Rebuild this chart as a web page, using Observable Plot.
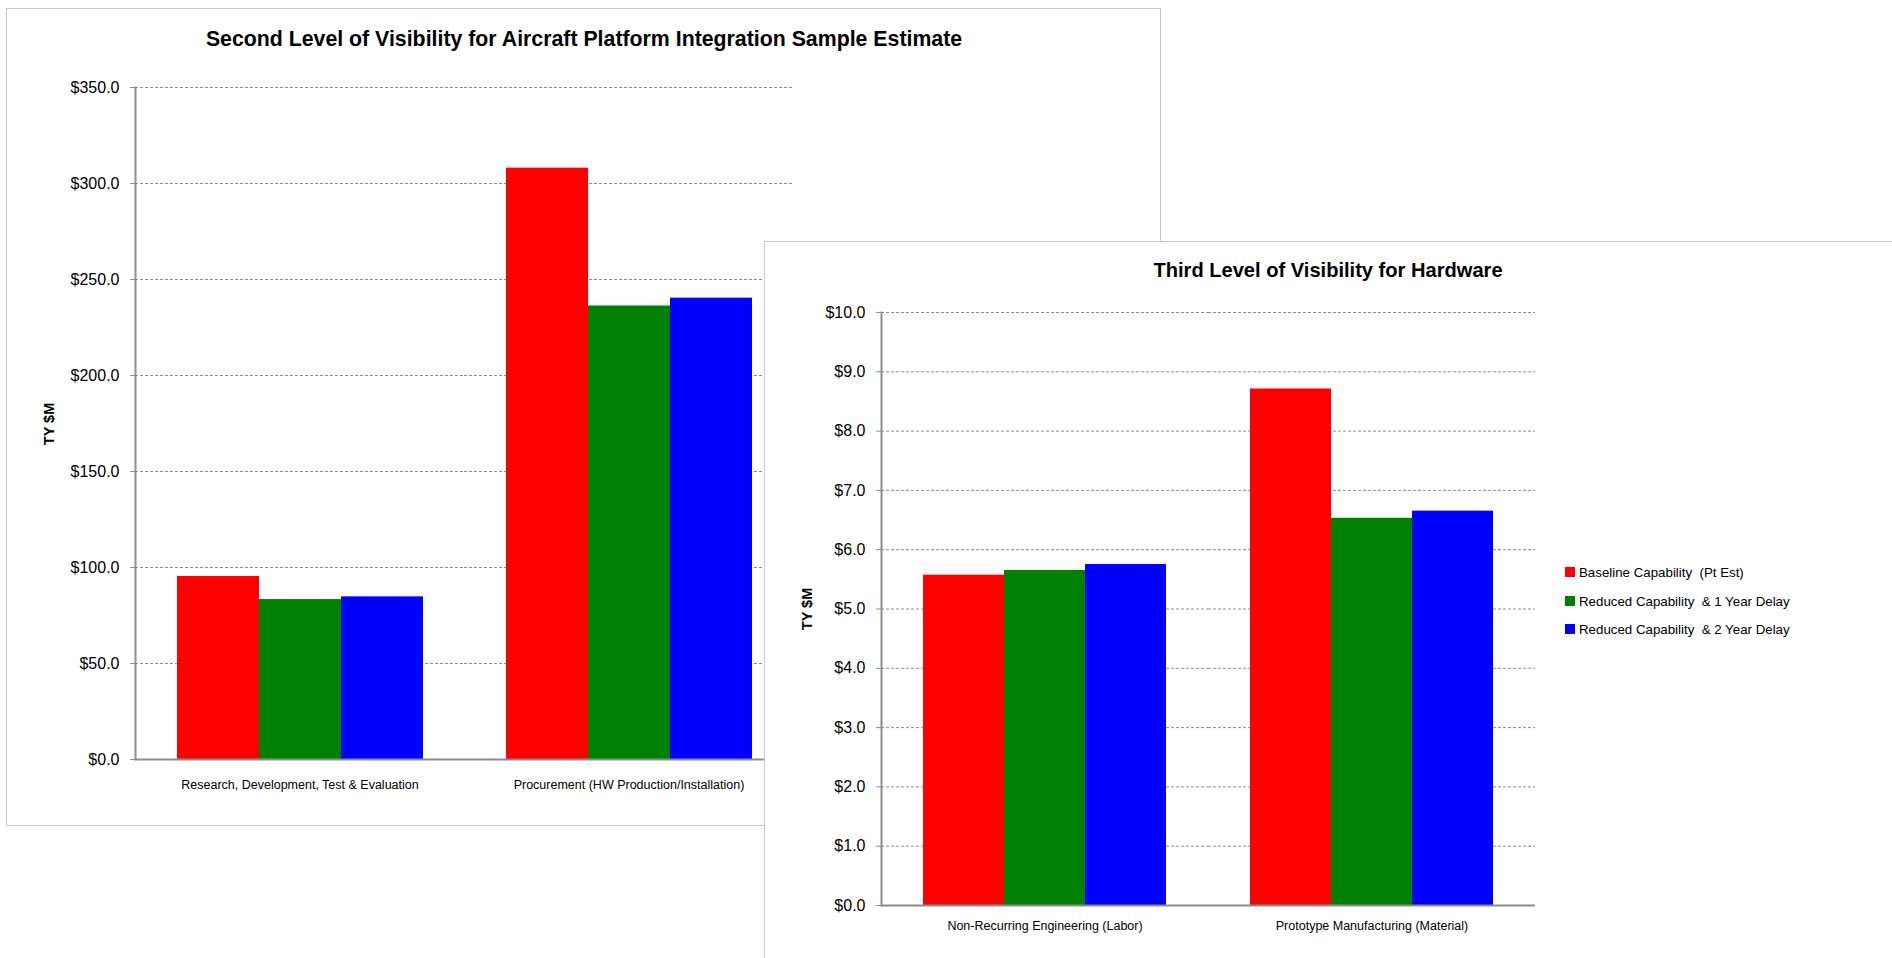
<!DOCTYPE html>
<html>
<head>
<meta charset="utf-8">
<script src="https://cdn.jsdelivr.net/npm/d3@7"></script>
<script src="https://cdn.jsdelivr.net/npm/@observablehq/plot@0.6"></script>
<style>
  html, body { margin: 0; padding: 0; background: #fff; }
  body { width: 1892px; height: 958px; overflow: hidden; position: relative;
         font-family: "Liberation Sans Narrow", "Liberation Sans", "DejaVu Sans Condensed", sans-serif; }
  .layer { position: absolute; left: 0; top: 0; width: 1892px; height: 958px; }
  .frame { position: absolute; background: #fff; border: 1px solid #c8c8c8; box-sizing: border-box; }
  .title { position: absolute; font-weight: bold; white-space: nowrap; transform: translate(-50%, -50%); color: #000; }
  .ylab { position: absolute; font-family: "Liberation Sans", Arial, sans-serif; font-weight: bold; font-size: 14.5px;
          white-space: nowrap; transform: translate(-50%, -50%) rotate(-90deg); color: #000; }
  .legend { position: absolute; font-size: 13.3px; color: #000; }
  .legend .row { position: absolute; white-space: pre; display: flex; align-items: center; }
  .legend .sw { width: 10px; height: 10px; margin-right: 4px; flex: none; }
  svg { position: absolute; }
</style>
</head>
<body>
<div class="layer" id="layer1">
  <div class="frame" style="left:6px;top:8px;width:1155px;height:818px;"></div>
  <div class="title" id="title1" style="left:584px;top:39px;font-size:21.3px;"></div>
  <div class="ylab" id="ylab1" style="left:49px;top:424px;"></div>
</div>
<div class="layer" id="layer2">
  <div class="frame" style="left:764px;top:241px;width:1160px;height:760px;"></div>
  <div class="title" id="title2" style="left:1328px;top:270px;font-size:20.1px;"></div>
  <div class="ylab" id="ylab2" style="left:807px;top:609px;"></div>
  <div class="legend" id="legend"></div>
</div>
<script>
// ---- data ----
const series = ["Baseline Capability  (Pt Est)", "Reduced Capability  & 1 Year Delay", "Reduced Capability  & 2 Year Delay"];
const seriesColors = ["#ff0000", "#008000", "#0000ff"];

const title1 = "Second Level of Visibility for Aircraft Platform Integration Sample Estimate";
const cats1 = ["Research, Development, Test & Evaluation", "Procurement (HW Production/Installation)"];
const baseline1 = [95.3, 308.0];
const delay1Year1 = [83.3, 236.2];
const delay2Year1 = [84.7, 240.3];
const yTicks1 = [0, 50, 100, 150, 200, 250, 300, 350];

const title2 = "Third Level of Visibility for Hardware";
const cats2 = ["Non-Recurring Engineering (Labor)", "Prototype Manufacturing (Material)"];
const baseline2 = [5.57, 8.71];
const delay1Year2 = [5.65, 6.53];
const delay2Year2 = [5.75, 6.65];
const yTicks2 = [0, 1, 2, 3, 4, 5, 6, 7, 8, 9, 10];

const yLabel = "TY $M";

const FONT = '"Liberation Sans Narrow", "Liberation Sans", sans-serif';
const AXIS = "#8c8c8c";

function makeChart({cats, values, yTicks, width, height, margins, fxPad}) {
  const rows = cats.flatMap((c, i) => series.map((s, j) => ({cat: c, series: s, value: values[j][i]})));
  return Plot.plot({
    width, height, ...margins,
    style: {fontFamily: FONT, color: "#000", background: "transparent", overflow: "visible"},
    fx: {domain: cats, padding: 0},
    x: {domain: series, paddingInner: 0, paddingOuter: 0.5, axis: null},
    y: {domain: [yTicks[0], yTicks[yTicks.length - 1]]},
    color: {domain: series, range: seriesColors},
    marks: [
      Plot.gridY(yTicks, {stroke: AXIS, strokeOpacity: 1, strokeDasharray: "3,2"}),
      Plot.barY(rows, {fx: "cat", x: "series", y: "value", fill: "series"}),
      Plot.ruleY([0], {stroke: AXIS, strokeWidth: 2}),
      Plot.frame({anchor: "left", stroke: AXIS, strokeWidth: 2, facetAnchor: "left"}),
      Plot.axisY(yTicks, {tickSize: 5, tickPadding: 11, stroke: AXIS, fill: "#000", fontSize: 16,
                          tickFormat: d => "$" + d.toFixed(1), label: null}),
      Plot.axisFx({anchor: "bottom", tickSize: 0, tickPadding: fxPad, fontSize: 12.5, label: null})
    ]
  });
}

// chart 1
const svg1 = makeChart({
  cats: cats1, values: [baseline1, delay1Year1, delay2Year1], yTicks: yTicks1,
  width: 1155, height: 818,
  margins: {marginLeft: 128, marginRight: 368, marginTop: 79, marginBottom: 67},
  fxPad: 21
});
svg1.style.left = "6px"; svg1.style.top = "8px";
document.getElementById("layer1").insertBefore(svg1, document.getElementById("title1"));
document.getElementById("title1").textContent = title1;
document.getElementById("ylab1").textContent = yLabel;

// chart 2
const svg2 = makeChart({
  cats: cats2, values: [baseline2, delay1Year2, delay2Year2], yTicks: yTicks2,
  width: 1128, height: 717,
  margins: {marginLeft: 116, marginRight: 357, marginTop: 71, marginBottom: 53},
  fxPad: 16
});
svg2.style.left = "764px"; svg2.style.top = "241px";
document.getElementById("layer2").insertBefore(svg2, document.getElementById("title2"));
document.getElementById("title2").textContent = title2;
document.getElementById("ylab2").textContent = yLabel;

// legend
const legend = document.getElementById("legend");
const legendRowsY = [572, 601, 629];
series.forEach((s, i) => {
  const row = document.createElement("div");
  row.className = "row";
  row.style.left = "1565px";
  row.style.top = (legendRowsY[i] - 9) + "px";
  row.style.height = "18px";
  const sw = document.createElement("span");
  sw.className = "sw";
  sw.style.background = seriesColors[i];
  const t = document.createElement("span");
  t.textContent = s;
  row.appendChild(sw); row.appendChild(t);
  legend.appendChild(row);
});
legend.style.left = "0px"; legend.style.top = "0px";
</script>
</body>
</html>
